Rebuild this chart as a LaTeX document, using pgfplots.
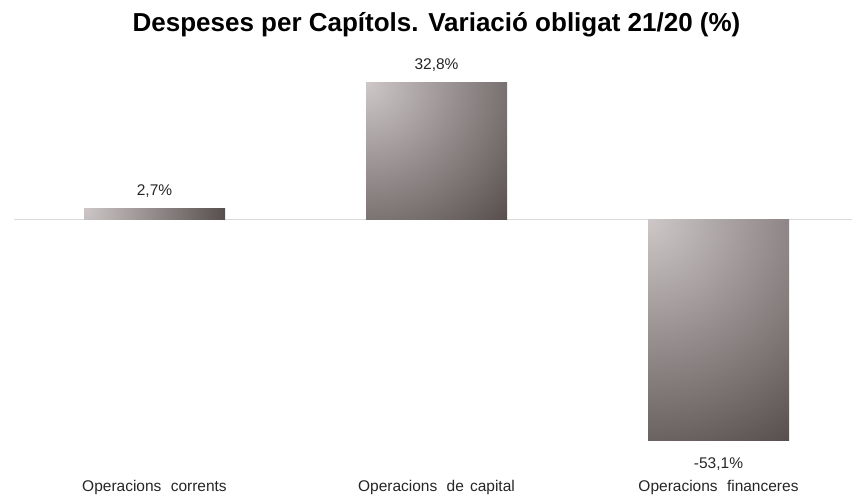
\documentclass[border=0pt]{standalone}
\usepackage{pgfplots}
\pgfplotsset{compat=1.18}
\usepackage{fontspec}
\setmainfont{Liberation Sans}
\definecolor{zeroline}{RGB}{217,217,217}
\definecolor{txt}{RGB}{38,38,38}
% radial gradient from the top-left corner of each bar (a = w/diag, b = h/diag)
\pgfdeclarefunctionalshading{barA}{\pgfpoint{-50bp}{-50bp}}{\pgfpoint{50bp}{50bp}}{}{
  25 exch sub 50 div 0.0792 mul dup mul
  exch 25 add 50 div 0.9969 mul dup mul add sqrt
  dup 1 gt {pop 1} if
  dup -117 mul 205 add 255 div
  exch dup -121 mul 199 add 255 div
  exch -121 mul 199 add 255 div
}
\pgfdeclarefunctionalshading{barB}{\pgfpoint{-50bp}{-50bp}}{\pgfpoint{50bp}{50bp}}{}{
  25 exch sub 50 div 0.6958 mul dup mul
  exch 25 add 50 div 0.7182 mul dup mul add sqrt
  dup 1 gt {pop 1} if
  dup -117 mul 205 add 255 div
  exch dup -121 mul 199 add 255 div
  exch -121 mul 199 add 255 div
}
\pgfdeclarefunctionalshading{barC}{\pgfpoint{-50bp}{-50bp}}{\pgfpoint{50bp}{50bp}}{}{
  25 exch sub 50 div 0.8433 mul dup mul
  exch 25 add 50 div 0.5376 mul dup mul add sqrt
  dup 1 gt {pop 1} if
  dup -117 mul 205 add 255 div
  exch dup -121 mul 199 add 255 div
  exch -121 mul 199 add 255 div
}
\begin{document}
\begin{tikzpicture}
\useasboundingbox (-13.5pt,-20.3pt) rectangle (838.5pt,477.7pt);
\begin{axis}[
  at={(0pt,0pt)}, anchor=south west,
  scale only axis, width=846pt, height=416.5pt,
  xmin=-0.5, xmax=2.5, ymin=-62, ymax=38,
  axis line style={draw=none},
  tick style={draw=none},
  ytick=\empty,
  xtick={0,1,2},
  xticklabels={Operacions\hspace{0.6em}corrents, Operacions\hspace{0.6em}de\hspace{0.4em}capital, Operacions\hspace{0.6em}financeres},
  xticklabel style={font=\fontsize{15.5}{18}\selectfont, text=txt, yshift=5.5pt},
  extra y ticks={0}, extra y tick labels={},
  extra y tick style={grid=major, major grid style={draw=zeroline, line width=1.5pt}},
  ybar, bar width=141pt,
  title={Despeses per Capítols. Variació obligat 21/20 (\%)},
  title style={font=\bfseries\fontsize{26}{30}\selectfont, at={(0.5,1)}, anchor=south, yshift=15pt},
  clip=false,
  point meta=explicit symbolic,
  nodes near coords,
]
\addplot[draw=none, shade, shading=barA, bar shift=0pt,
  every node near coord/.append style={anchor=south, inner ysep=11pt, font=\fontsize{15.5}{18}\selectfont, text=txt}]
  coordinates {(0,2.7) [2,7\%]};
\addplot[draw=none, shade, shading=barB, bar shift=0pt,
  every node near coord/.append style={anchor=south, inner ysep=11pt, font=\fontsize{15.5}{18}\selectfont, text=txt}]
  coordinates {(1,32.8) [32,8\%]};
\addplot[draw=none, shade, shading=barC, bar shift=0pt,
  every node near coord/.append style={anchor=north, inner ysep=17pt, font=\fontsize{15.5}{18}\selectfont, text=txt}]
  coordinates {(2,-53.1) [-53,1\%]};
\end{axis}
\end{tikzpicture}
\end{document}
